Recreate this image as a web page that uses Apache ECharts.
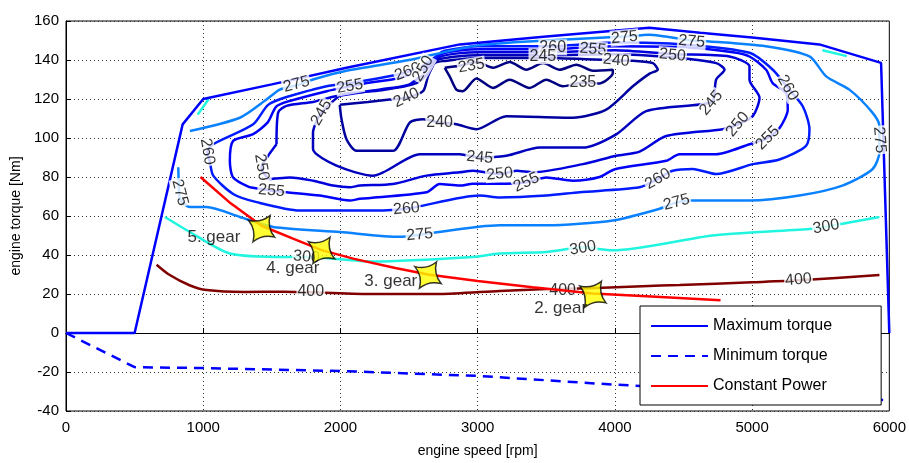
<!DOCTYPE html>
<html>
<head>
<meta charset="utf-8">
<script src="https://cdn.jsdelivr.net/npm/echarts@6/dist/echarts.min.js"></script>
<style>
html, body { margin: 0; padding: 0; background: #fff; }
#main { width: 909px; height: 463px; }
</style>
</head>
<body>
<div id="main"></div>
<script>
/* full load curves */
var maxTorque = [[0, 0], [500, 0], [850, 107], [1000, 120], [1500, 127.5], [2044, 136], [2870, 148], [3500, 152], [4250, 156.5], [4620, 154], [5000, 151.5], [5490, 148], [5940, 138.5], [6000, 0]];
var minTorque = [[0, 0], [500, -17.5], [1000, -18], [2000, -19.5], [3000, -22], [4000, -26.5], [5000, -30], [6000, -34.5]];
var constPower = [[980, 80], [1200, 66.5], [1425, 55], [1650, 48.5], [1862, 42.5], [2100, 38], [2400, 33.3], [2638, 30], [3000, 26.7], [3400, 23.5], [3840, 20.3], [4300, 18.6], [4770, 16.8]];

/* gear operating points */
var gearPoints = [[1425, 53.5], [1862, 42.4], [2638, 29.7], [3840, 19.8]];
var gearNames = [[1078, 48.9, '5. gear'], [1653, 33.1, '4. gear'], [2367, 26.5, '3. gear'], [3605, 12.7, '2. gear']];

/* bsfc contours [g/kWh] */
var c235 = [[2760, 136], [2796, 131.6], [2845, 124.8], [2891, 124], [2991, 130.5], [3112, 125.7], [3233, 129.9], [3379, 125.7], [3500, 129.9], [3621, 126.5], [3767, 128.5], [3889, 128], [3985, 133.3], [3985, 135], [3840, 134.5], [3719, 137.6], [3597, 135], [3477, 138.4], [3355, 135], [3233, 139], [3112, 136], [2991, 139], [2869, 137], [2760, 136]];
var c240 = [[1995, 117], [2200, 118.5], [2359, 119.7], [2481, 120.6], [2602, 124], [2638, 131.6], [2687, 138.4], [2760, 139.5], [3000, 141], [3500, 141], [4010, 139.8], [4131, 139.6], [4277, 138.4], [4313, 135], [4253, 133], [4131, 126.5], [3937, 114.6], [3694, 110.4], [3209, 111.2], [2991, 104.5], [2845, 107], [2723, 107.9], [2602, 109.6], [2505, 107.9], [2383, 93.4], [2117, 93.4], [2044, 99.4], [2008, 109.6], [1995, 117]];
var c245 = [[1946, 118.9], [2019, 122.5], [2300, 124.5], [2550, 128], [2650, 134], [2700, 140], [3000, 142.5], [3500, 142.5], [4000, 143], [4400, 141.5], [4738, 138.4], [4799, 135], [4738, 130], [4714, 119], [4617, 117.2], [4228, 113.8], [4010, 101.9], [3767, 95.1], [3452, 95.1], [3209, 90.9], [3015, 90], [2869, 91.7], [2578, 91.7], [2238, 80.7], [1971, 85.8], [1800, 94.3], [1800, 102.7], [1826, 108.7], [1862, 113], [1946, 118.9]];
var c250 = [[1534, 96.8], [1546, 113], [1607, 116.5], [1800, 118.5], [1971, 121.5], [2300, 125], [2500, 127.4], [2602, 133], [2720, 141.5], [3000, 144], [3500, 144], [4000, 145], [4420, 143], [4835, 141.8], [4981, 136.7], [4981, 129.9], [5054, 120.6], [5005, 111.2], [4896, 107], [4787, 104.5], [4374, 101], [4180, 93], [4010, 90.9], [3767, 86.6], [3403, 82.4], [3282, 83.2], [3160, 81.5], [2966, 83.2], [2869, 82.4], [2627, 80.7], [2383, 76.4], [2141, 75.6], [2068, 74.7], [1946, 75.6], [1800, 78.1], [1631, 79.8], [1486, 79], [1425, 85], [1473, 90.9], [1534, 96.8]];
var c255 = [[1340, 74.7], [1218, 79.8], [1194, 88.3], [1218, 98.5], [1364, 102], [1470, 108], [1530, 116], [1607, 118.5], [1900, 124], [2068, 126.5], [2177, 128], [2408, 130.5], [2600, 135], [2735, 143], [3000, 145.5], [3500, 145.5], [4000, 147], [4500, 146.5], [4860, 144], [4981, 141.8], [5102, 135], [5151, 128], [5248, 123.1], [5260, 114.6], [5199, 105], [5114, 100], [4981, 96.8], [4738, 91.7], [4471, 91.7], [4374, 88.3], [4000, 84], [3889, 80], [3694, 78.1], [3500, 79.8], [3355, 77.3], [3200, 76.5], [2966, 76.5], [2869, 75.6], [2723, 76.4], [2627, 72.2], [2141, 68.8], [2068, 67.9], [1850, 70.5], [1607, 72.2], [1498, 73], [1340, 74.7]];
var c260 = [[2745, 144.5], [2600, 137], [2490, 134], [2383, 132], [2100, 128.5], [1898, 126.5], [1607, 121], [1473, 117], [1364, 107], [1073, 96.8], [1030, 93], [1048, 88], [1073, 80.7], [1218, 71.3], [1389, 67.1], [1704, 62.8], [2237, 62.8], [2481, 63.7], [3015, 70.5], [3160, 69.5], [3500, 70.5], [3743, 72.2], [4180, 74.7], [4313, 79], [4422, 83.2], [4568, 84.1], [4738, 81.5], [5005, 86.6], [5199, 89], [5393, 96], [5418, 104.5], [5369, 116.3], [5260, 125.7], [5151, 135], [4981, 143.7], [4500, 148], [4000, 149], [3500, 147], [3000, 147], [2745, 144.5]];
var c275 = [[818, 85], [822, 77], [830, 69], [903, 64.6], [1025, 64.6], [1267, 59.5], [1510, 54.4], [1995, 51.8], [2432, 49.3], [2578, 50.4], [3160, 55.2], [3500, 55.2], [3985, 57.7], [4325, 63.7], [4450, 67], [4566, 67.9], [4981, 67.9], [5345, 70.5], [5658, 75.6], [5877, 84], [5928, 92.7], [5928, 106], [5877, 113], [5709, 124.8], [5540, 131.6], [5418, 141.8], [5100, 147], [4690, 149.5], [4560, 150], [4250, 153], [4070, 152], [3500, 150], [3000, 147.5], [2500, 140], [2044, 134.5], [1800, 130], [1680, 127], [1558, 124.8], [1461, 119.7], [1267, 110.4], [903, 103.6]];
var c300 = [[721, 59.5], [903, 51.8], [1194, 40.8], [1607, 39], [1753, 39], [2237, 36.7], [2964, 39], [3160, 40.8], [3500, 41.6], [3767, 43.8], [3985, 42.4], [4714, 50], [5440, 53.5], [5540, 54.5], [5928, 59.5]];
var c300a = [[960, 112], [1040, 120]];
var c300b = [[5512, 145], [5690, 142]];
var c400 = [[660, 35], [750, 30], [900, 24.5], [1025, 22], [1300, 21], [1583, 21.2], [1800, 20.9], [2237, 20], [2723, 20], [3160, 21.6], [3500, 22.5], [3816, 23], [4200, 24], [4471, 24.6], [5000, 26], [5345, 27], [5928, 29.7]];

/* contour labels: rpm, torque, text, angle */
var contourLabels = [
	[1680, 127.5, '275', 15], [830, 72, '275', -75], [2578, 50.4, '275', 5], [4450, 67, '275', 15],
	[4070, 151.5, '275', 5], [4560, 149.5, '275', -5], [5928, 99, '275', -85],
	[1030, 93, '260', -80], [2490, 134, '260', 20], [2481, 63.7, '260', 5], [3547, 146.5, '260', 0],
	[4313, 79, '260', 30], [5260, 125.7, '260', -60],
	[2068, 126.5, '255', 10], [1498, 73, '255', -5], [3355, 77.3, '255', 25], [3840, 145.5, '255', -5], [5114, 100, '255', 45],
	[1425, 85, '250', -80], [2602, 135.5, '250', 60], [3160, 81.5, '250', 5], [4420, 142.5, '250', -5], [4896, 107, '250', 50],
	[1862, 113, '245', 60], [3015, 90, '245', -5], [3475, 142, '245', 0], [4702, 118, '245', 50],
	[2481, 120.6, '240', 25], [2723, 107.9, '240', 0], [4010, 139.8, '240', -5],
	[2954, 137, '235', 10], [3767, 128.5, '235', 0],
	[1753, 39, '300', -5], [3767, 43.5, '300', 10], [5540, 54.5, '300', 10],
	[1784, 21.2, '400', 0], [3619, 22, '400', 0], [5338, 27.3, '400', 5]
];

var contourSets = [
	[235, c235], [240, c240], [245, c245], [250, c250], [255, c255], [260, c260],
	[275, c275], [300, c300], [300, c300a], [300, c300b], [400, c400]
];

// jet-like colours of the levels
var levelColor = {
	235: '#000080', 240: '#00009e', 245: '#0000bd', 250: '#0000dc',
	255: '#0000fb', 260: '#001bff', 275: '#0a82ff', 300: '#20f5e0', 400: '#800000'
};

var myChart = echarts.init(document.getElementById('main'));

var series = [];
contourSets.forEach(function (c) {
	series.push({
		type: 'line',
		data: c[1],
		symbol: 'none',
		smooth: 0.25,
		silent: true,
		lineStyle: { color: levelColor[c[0]], width: 2.5 },
		z: 2
	});
});

series.push({
	type: 'scatter',
	symbolSize: 0,
	silent: true,
	z: 4,
	data: contourLabels.map(function (d) {
		return { value: [d[0], d[1]], name: d[2], label: { rotate: d[3] } };
	}),
	label: {
		show: true,
		position: 'inside',
		formatter: '{b}',
		color: '#000',
		fontSize: 16,
		backgroundColor: '#fff',
		padding: [0, 1]
	}
});

series.push({
	name: 'Maximum torque',
	type: 'line',
	data: maxTorque,
	symbol: 'none',
	lineStyle: { color: '#0000ff', width: 2.5 },
	itemStyle: { color: '#0000ff' },
	z: 3
});
series.push({
	name: 'Minimum torque',
	type: 'line',
	data: minTorque,
	symbol: 'none',
	lineStyle: { color: '#0000ff', width: 2.5, type: [10, 7] },
	itemStyle: { color: '#0000ff' },
	z: 3
});
series.push({
	name: 'Constant Power',
	type: 'line',
	data: constPower,
	symbol: 'none',
	lineStyle: { color: '#ff0000', width: 2.5 },
	itemStyle: { color: '#ff0000' },
	z: 5
});

series.push({
	type: 'scatter',
	data: gearPoints,
	symbol: 'path://M-1,-1 Q0,-0.5 1,-1 Q0.5,0 1,1 Q0,0.5 -1,1 Q-0.5,0 -1,-1 Z',
	symbolSize: 22,
	symbolRotate: 12,
	itemStyle: { color: '#ffff00', borderColor: '#000', borderWidth: 1.5 },
	z: 8
});

series.push({
	type: 'scatter',
	symbolSize: 0,
	silent: true,
	z: 9,
	data: gearNames.map(function (d) {
		return { value: [d[0], d[1]], name: d[2] };
	}),
	label: {
		show: true,
		position: 'inside',
		formatter: '{b}',
		color: '#000',
		fontSize: 17
	}
});

var option = {
	animation: false,
	backgroundColor: '#fff',
	textStyle: { fontFamily: 'Liberation Sans, Arial, sans-serif' },
	grid: {
		left: 66,
		right: 19,
		top: 21,
		bottom: 50,
		show: true,
		borderColor: '#000',
		borderWidth: 1
	},
	legend: {
		orient: 'vertical',
		left: 640,
		top: 306,
		itemWidth: 57,
		itemHeight: 14,
		itemGap: 14,
		padding: [12, 49, 11, 10],
		borderColor: '#000',
		borderWidth: 1,
		backgroundColor: '#fff',
		itemStyle: { color: 'rgba(0,0,0,0)', borderWidth: 0 },
		textStyle: { color: '#000', fontSize: 16 },
		data: ['Maximum torque', 'Minimum torque', 'Constant Power']
	},
	xAxis: {
		type: 'value',
		min: 0,
		max: 6000,
		interval: 1000,
		name: 'engine speed [rpm]',
		nameLocation: 'middle',
		nameGap: 33,
		nameTextStyle: { color: '#000', fontSize: 14 },
		axisLine: { lineStyle: { color: '#000' } },
		axisTick: { inside: true, length: 5, lineStyle: { color: '#000' } },
		axisLabel: { color: '#000', fontSize: 15, margin: 9, formatter: function (v) { return String(v); } },
		splitLine: { show: true, lineStyle: { color: '#333', type: [1, 3] } }
	},
	yAxis: {
		type: 'value',
		min: -40,
		max: 160,
		interval: 20,
		name: 'engine torque [Nm]',
		nameLocation: 'middle',
		nameGap: 37,
		nameTextStyle: { color: '#000', fontSize: 14 },
		axisLine: { show: true, lineStyle: { color: '#000' } },
		axisTick: { show: true, inside: true, length: 5, lineStyle: { color: '#000' } },
		axisLabel: { color: '#000', fontSize: 15, margin: 7 },
		splitLine: { show: true, lineStyle: { color: '#333', type: [1, 3] } }
	},
	series: series
};
myChart.setOption(option);
</script>
</body>
</html>
